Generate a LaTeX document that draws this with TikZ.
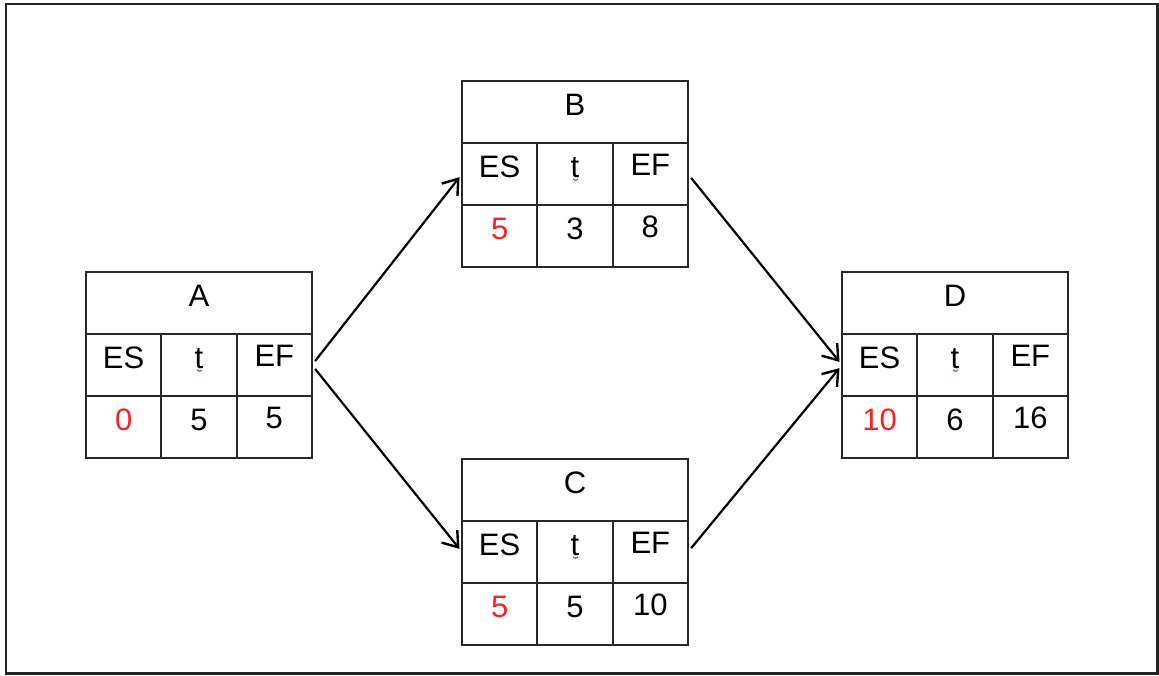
\documentclass[tikz,border=0pt]{standalone}
\usepackage{fontspec}
\setmainfont{Liberation Sans}
\usetikzlibrary{arrows.meta}

\definecolor{esred}{RGB}{255,30,30}
\definecolor{framegray}{RGB}{35,35,35}
\definecolor{gridgray}{RGB}{40,40,40}
\definecolor{spellgreen}{RGB}{60,160,60}

\tikzset{
  cell/.style={draw=gridgray, line width=1.9pt, minimum width=75.33pt, minimum height=62pt,
    inner sep=0pt, outer sep=0pt, font=\fontsize{31}{36}\selectfont,
    text height=20pt, text depth=14pt},
  head/.style={cell, minimum width=226pt},
  lastcol/.style={text depth=18pt},
  early/.style={text=esred},
  link/.style={line width=2.2pt, -{Straight Barb[length=14pt,width=20pt,line width=2.4pt]},
    shorten <=5pt, shorten >=4pt},
  squiggle/.style={spellgreen, line width=1.2pt}
}

% one activity box: name, left x, top y, label, ES, duration, EF
\newcommand\pertbox[7]{%
  \node[head, anchor=north west] (#1-head) at (#2,#3) {#4};
  \node[cell, anchor=north west] (#1-es) at (#1-head.south west) {ES};
  \node[cell, anchor=north west] (#1-t) at (#1-es.north east) {t};
  \node[cell, lastcol, anchor=north west] (#1-ef) at (#1-t.north east) {EF};
  \node[cell, early, anchor=north west] (#1-esv) at (#1-es.south west) {#5};
  \node[cell, anchor=north west] (#1-tv) at (#1-esv.north east) {#6};
  \node[cell, lastcol, anchor=north west] (#1-efv) at (#1-tv.north east) {#7};
  \draw[squiggle] ([shift={(-2pt,-2pt)}]#1-t.base) to[bend right=70] ([shift={(3pt,-2pt)}]#1-t.base);
}

\begin{document}
\begin{tikzpicture}[x=1pt, y=-1pt]
  \useasboundingbox (0,0) rectangle (1159,675);
  \draw[framegray, line width=2.5pt] (6,4) rectangle (1157.5,673.5);

  \pertbox{A}{86}{272}{A}{0}{5}{5}
  \pertbox{B}{462}{81}{B}{5}{3}{8}
  \pertbox{C}{462}{459}{C}{5}{5}{10}
  \pertbox{D}{842}{272}{D}{10}{6}{16}

  \draw[link] (A-ef.east) -- (B-es.west);
  \draw[link] (A-ef.east) -- (C-es.west);
  \draw[link] (B-ef.east) -- (D-es.west);
  \draw[link] (C-ef.east) -- (D-es.west);
\end{tikzpicture}
\end{document}
